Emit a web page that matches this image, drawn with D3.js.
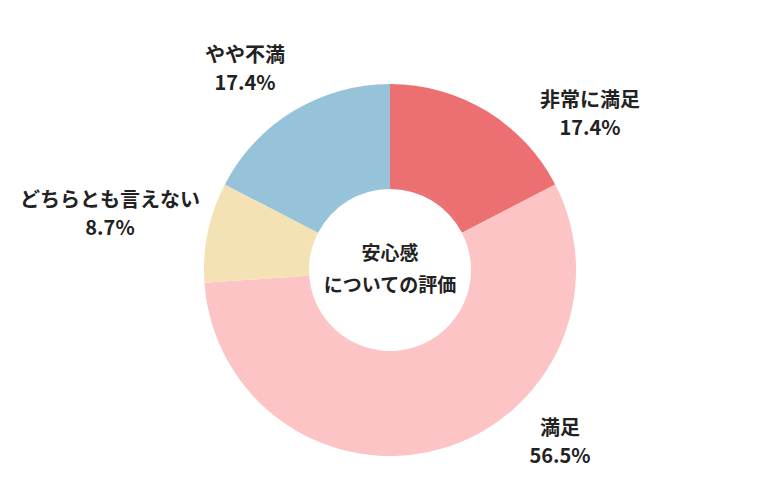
<!DOCTYPE html>
<html><head><meta charset="utf-8">
<script src="https://cdn.jsdelivr.net/npm/d3@7"></script>
<style>body{margin:0;background:#fff}</style>
</head><body><svg id="c" width="780" height="500"></svg>
<script>
const categories = ["非常に満足", "満足", "どちらとも言えない", "やや不満"];
const values = [17.4, 56.5, 8.7, 17.4];
const colors = ["#ec7072", "#fdc4c6", "#f5e2b4", "#96c3da"];
const labelPos = [[590, 100], [560, 428], [110, 200], [245, 55]];

const svg = d3.select("#c");
const cx = 390, cy = 270, R = 186;
const g = svg.append("g").attr("transform", `translate(${cx},${cy})`);
const pie = d3.pie().sort(null).value(d => d)(values);
const arc = d3.arc().innerRadius(0).outerRadius(R);
g.selectAll("path").data(pie).enter().append("path")
  .attr("d", arc).attr("fill", (d, i) => colors[i]);
g.append("circle").attr("r", 83).attr("fill", "#fff");
g.selectAll(".ring").data(pie).enter().append("path")
  .attr("d", d3.arc().innerRadius(81).outerRadius(83.5))
  .attr("fill", (d, i) => colors[i]);
g.append("circle").attr("r", 79).attr("fill", "#fff");

const font = "'Noto Sans CJK JP', 'Noto Sans', sans-serif";
g.selectAll(".ct").data(["安心感", "についての評価"]).enter().append("text")
  .attr("y", (d, i) => -10 + i * 32).attr("text-anchor", "middle")
  .attr("font-family", font).attr("font-weight", "bold").attr("font-size", 19)
  .attr("fill", "#222").text(d => d);

categories.forEach((c, i) => {
  const t = svg.append("text").attr("text-anchor", "middle")
    .attr("font-family", font).attr("font-weight", "bold").attr("font-size", 20).attr("fill", "#222");
  t.append("tspan").attr("x", labelPos[i][0]).attr("y", labelPos[i][1] + 7).text(c);
  t.append("tspan").attr("x", labelPos[i][0]).attr("y", labelPos[i][1] + 35).text(values[i] + "%");
});
</script></body></html>
